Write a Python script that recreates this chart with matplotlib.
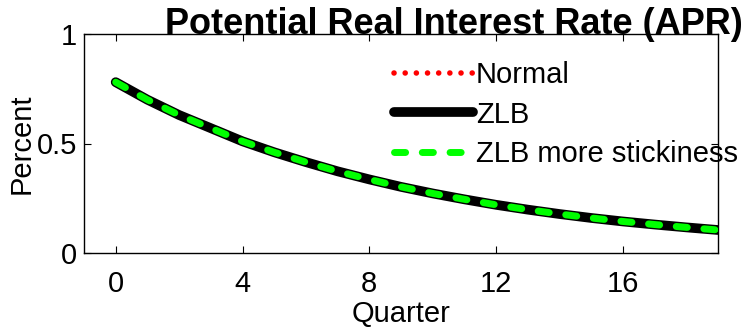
import numpy as np
import matplotlib.pyplot as plt

plt.rcParams['font.family'] = ['Liberation Sans', 'DejaVu Sans']

quarters = np.arange(0, 20)
normal = [0.78, 0.70, 0.63, 0.57, 0.51, 0.46, 0.415, 0.373, 0.336, 0.302,
          0.272, 0.245, 0.220, 0.198, 0.178, 0.160, 0.144, 0.130, 0.117, 0.105]
zlb = [0.78, 0.70, 0.63, 0.57, 0.51, 0.46, 0.415, 0.373, 0.336, 0.302,
       0.272, 0.245, 0.220, 0.198, 0.178, 0.160, 0.144, 0.130, 0.117, 0.105]
zlb_sticky = [0.78, 0.70, 0.63, 0.57, 0.51, 0.46, 0.415, 0.373, 0.336, 0.302,
              0.272, 0.245, 0.220, 0.198, 0.178, 0.160, 0.144, 0.130, 0.117, 0.105]

fig = plt.figure(figsize=(7.44, 3.32), dpi=100)
ax = fig.add_axes([84 / 744, 1 - 253 / 332, (718 - 84) / 744, (253 - 34) / 332])

ax.plot(quarters, normal, color='red', lw=4, ls=(0, (0.01, 2.0)),
        dash_capstyle='round', label='Normal', zorder=2)
ax.plot(quarters, zlb, color='black', lw=7, solid_capstyle='round',
        label='ZLB', zorder=3)
ax.plot(quarters, zlb_sticky, color='#00ff00', lw=5, ls=(0, (1.6, 2.4)),
        dash_capstyle='round', label='ZLB more stickiness', zorder=4)

ax.set_xlim(-1, 19)
ax.set_ylim(0, 1)
ax.set_xticks([0, 4, 8, 12, 16])
ax.set_yticks([0, 0.5, 1])
ax.set_yticklabels(['0', '0.5', '1'])
ax.tick_params(direction='in', top=True, right=True, labelsize=21, length=5, width=0.8)
ax.tick_params(axis='x', pad=12)
ax.tick_params(axis='y', pad=5)
for s in ax.spines.values():
    s.set_linewidth(1)
ax.set_xlabel('Quarter', fontsize=21, labelpad=2)
ax.set_ylabel('Percent', fontsize=21)
ax.yaxis.set_label_coords((36 - 84) / 634, 0.5)

fig.text(454 / 744, 1 - 25 / 332, 'Potential Real Interest Rate (APR)', ha='center', va='center',
         fontsize=26, fontweight='bold')

leg = ax.legend(loc='upper left', bbox_to_anchor=((392 - 84) / 634 - 0.015, 1 - 0.07),
                frameon=False, fontsize=21, handlelength=2.7, handletextpad=0.1,
                labelspacing=0.4, borderaxespad=0)

fig.savefig('out.png', dpi=100)
